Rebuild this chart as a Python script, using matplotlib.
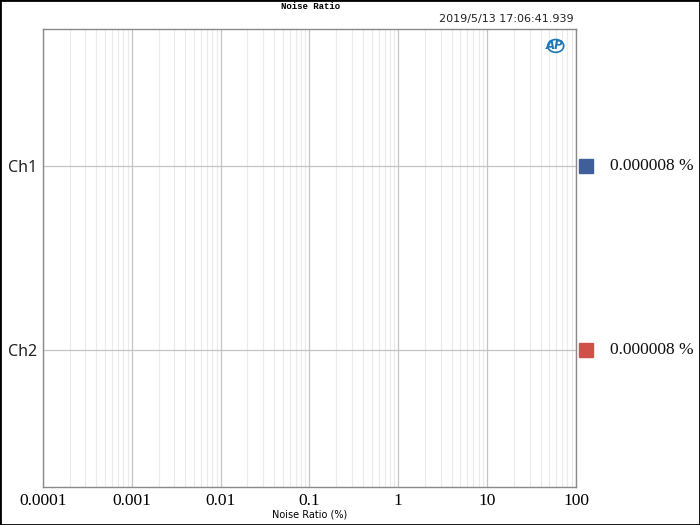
import matplotlib
matplotlib.use("Agg")
import matplotlib.pyplot as plt
import matplotlib.transforms as mtransforms
from matplotlib.patches import Rectangle, Ellipse
from matplotlib.ticker import LogLocator, FixedLocator, NullFormatter

# ── Données ──────────────────────────────────────────────────
channels   = ["Ch1", "Ch2"]
values     = [0.000008, 0.000008]          # Noise Ratio (%)
colors     = ["#3f5e9a", "#d0504a"]
x_ticks    = [0.0001, 0.001, 0.01, 0.1, 1, 10, 100]
x_labels   = ["0.0001", "0.001", "0.01", "0.1", "1", "10", "100"]
title      = "Noise Ratio"
timestamp  = "2019/5/13 17:06:41.939"
x_label    = "Noise Ratio (%)"

fig = plt.figure(figsize=(7, 5.25), dpi=100)
ax = fig.add_axes([0.0614, 0.0724, 0.7614, 0.8724])

ypos = list(range(len(channels)))
ax.barh(ypos, values, left=1e-9, color=colors, height=0.5)

ax.set_xscale("log")
ax.set_xlim(x_ticks[0], x_ticks[-1])
ax.set_ylim(1.745, -0.745)

# grille
ax.xaxis.set_major_locator(FixedLocator(x_ticks))
ax.xaxis.set_minor_locator(LogLocator(base=10, subs=range(2, 10), numticks=20))
ax.xaxis.set_minor_formatter(NullFormatter())
ax.set_xticklabels(x_labels, family="Liberation Serif", fontsize=12.5)
ax.grid(True, which="major", axis="x", color="#c4c4c4", lw=0.9)
ax.grid(True, which="minor", axis="x", color="#eaeaea", lw=0.8)
ax.grid(True, which="major", axis="y", color="#c4c4c4", lw=0.9)
ax.set_axisbelow(True)
ax.tick_params(axis="both", which="both", length=0)
ax.tick_params(axis="x", pad=4)
ax.tick_params(axis="y", pad=4)

ax.set_yticks(ypos)
ax.set_yticklabels(channels, family="Noto Sans", fontsize=11.5, color="#222222")

for s in ax.spines.values():
    s.set_color("#8a8a8a")
    s.set_linewidth(1.0)

ax.set_xlabel(x_label, fontsize=7, family="DejaVu Sans", labelpad=1)

# marqueurs et valeurs a droite
trans = mtransforms.blended_transform_factory(ax.transAxes, ax.transData)
for y, v, c in zip(ypos, values, colors):
    ax.plot([1.0195], [y], marker="s", ms=10, color=c, transform=trans,
            clip_on=False, mec=c)
    ax.text(1.063, y, f"{v:.6f} %", transform=trans, va="center", ha="left",
            family="Liberation Serif", fontsize=12.5, color="#111111")

# titre, date, logo
fig.text(0.443, 0.988, title, ha="center", va="center", fontsize=6.5,
         family="Liberation Mono", fontweight="bold")
fig.text(0.82, 0.964, timestamp, ha="right", va="center", fontsize=8,
         family="DejaVu Sans", color="#222222")
ax.add_patch(Ellipse((0.962, 0.963), 0.03, 0.028, transform=ax.transAxes,
                     fill=False, edgecolor="#1f77b4", lw=1.2))
ax.text(0.960, 0.965, "AP", transform=ax.transAxes, ha="center", va="center",
        fontsize=8.5, fontstyle="italic", fontweight="bold", color="#1f77b4")

fig.patches.append(Rectangle((0, 0), 1, 1, transform=fig.transFigure,
                             fill=False, edgecolor="black", lw=2))

plt.savefig("out.png", dpi=100)
